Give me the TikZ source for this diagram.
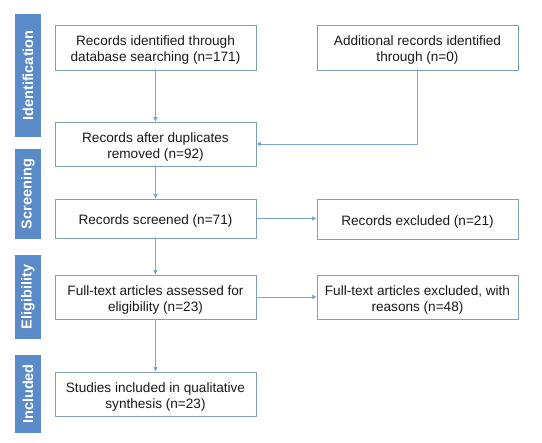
\documentclass[tikz,border=0pt]{standalone}
\usepackage{fontspec}
\setmainfont{Liberation Sans}
\usetikzlibrary{arrows.meta}
\definecolor{barblue}{HTML}{5A8BC8}
\definecolor{boxline}{HTML}{7F9EBD}
\definecolor{arrowblue}{HTML}{7BA5D1}
\definecolor{txt}{HTML}{1A1A1A}
\newcommand\lowtext{\rule{0pt}{15pt}}
\tikzset{
  box/.style={draw=boxline, line width=0.9pt, fill=white, minimum width=201pt, inner sep=0pt,
    align=center, text=txt, font=\fontsize{13.6}{16}\selectfont},
  onebox/.style={box, execute at begin node={\rule{0pt}{15pt}}},
  twobox/.style={box, minimum height=44pt},
  phase/.style={fill=barblue, minimum width=26pt, inner sep=0pt, rotate=90,
    text=white, font=\fontsize{14.5}{16}\selectfont\bfseries},
  conn/.style={draw=arrowblue, line width=0.9pt, -{Triangle[length=4.5pt,width=4pt]}}
}
\begin{document}
\begin{tikzpicture}[x=1pt,y=-1pt]
\useasboundingbox (0,0) rectangle (542,443);
% phase bars (rotated: minimum height is along x)
\node[phase, minimum width=123pt, minimum height=26pt] (ident) at (28,75.5) {Identification};
\node[phase, minimum width=90pt, minimum height=26pt] (screen) at (28,194) {Screening};
\node[phase, minimum width=84pt, minimum height=26pt] (elig) at (28,297) {Eligibility};
\node[phase, minimum width=78pt, minimum height=26pt] (incl) at (28,394) {Included};
% boxes
\node[twobox, minimum height=45pt] (b1) at (155.5,47.5) {\lowtext Records identified through\\database searching (n=171)};
\node[twobox, minimum height=45pt] (r1) at (417.5,47.5) {\lowtext Additional records identified\\through (n=0)};
\node[twobox] (b2) at (155.5,144) {\lowtext Records after duplicates\\removed (n=92)};
\node[onebox, minimum height=39pt] (b3) at (155.5,218.5) {Records screened (n=71)};
\node[onebox, minimum height=40pt] (r2) at (417.5,219) {Records excluded (n=21)};
\node[twobox] (b4) at (155.5,297) {\lowtext Full-text articles assessed for\\eligibility (n=23)};
\node[twobox] (r3) at (417.5,297) {\lowtext Full-text articles excluded, with\\reasons (n=48)};
\node[twobox] (b5) at (155.5,394) {\lowtext Studies included in qualitative\\synthesis (n=23)};
% connectors
\draw[conn] (b1.south) -- (b2.north);
\draw[conn] (r1.south) |- (b2.east);
\draw[conn] (b2.south) -- (b3.north);
\draw[conn] (b3.east) -- (b3.east -| r2.west);
\draw[conn] (b3.south) -- (b4.north);
\draw[conn] (b4.east) -- (r3.west);
\draw[conn] (b4.south) -- (b5.north);
\end{tikzpicture}
\end{document}
